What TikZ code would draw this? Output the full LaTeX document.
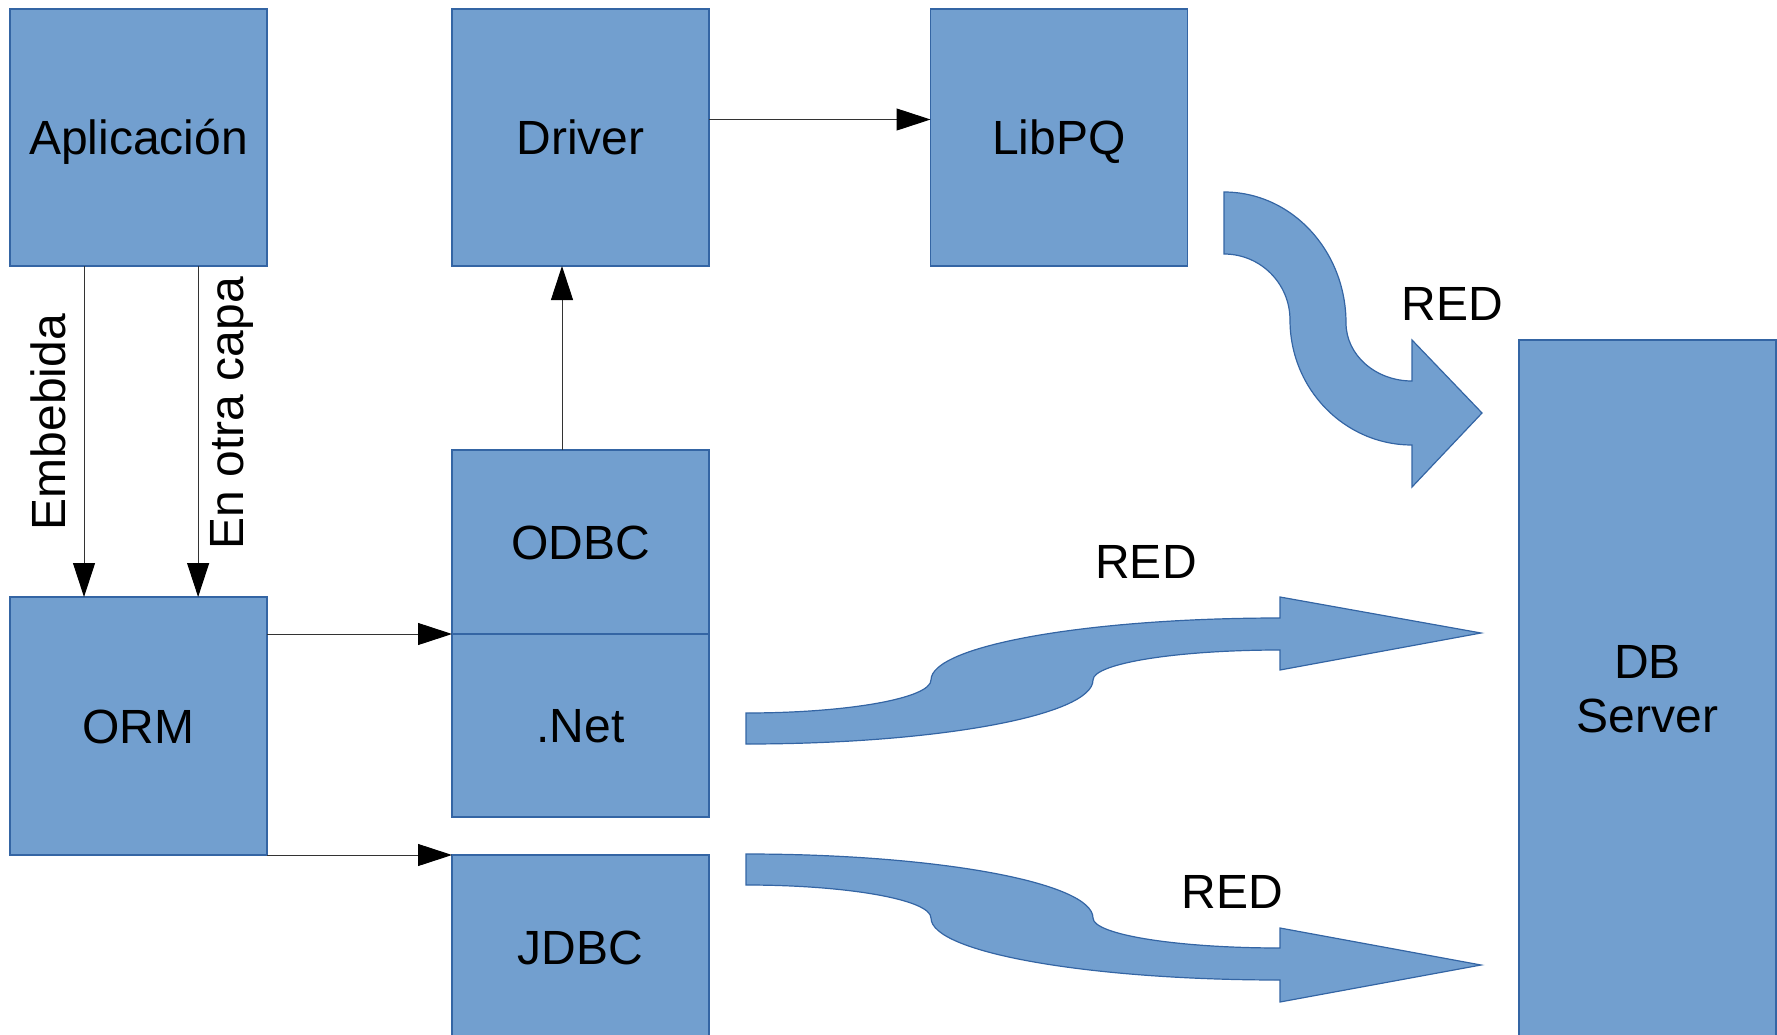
\documentclass[tikz,border=0pt]{standalone}
\usepackage{fontspec}
\setmainfont{Liberation Sans}
\usetikzlibrary{arrows.meta,calc}

\definecolor{boxfill}{HTML}{729FCF}
\definecolor{boxline}{HTML}{3465A4}

\tikzset{
  block/.style={draw=boxline, line width=1.2pt, fill=boxfill, inner sep=0pt,
    outer sep=0pt, minimum width=257pt, font=\fontsize{48}{54}\selectfont,
    align=center},
  oneline/.style={text height=34pt, text depth=0pt},
  conn/.style={draw=black!80, line width=1pt,
    -{Triangle[length=34pt,width=22pt,color=black]}},
  flow/.style={draw=boxline, line width=1.2pt, fill=boxfill},
  lbl/.style={font=\fontsize{48}{54}\selectfont, inner sep=0pt},
}

\begin{document}
\begin{tikzpicture}[x=1pt,y=-1pt]
\useasboundingbox (0,0) rectangle (1777,1035);

% software layers
\node[block, oneline, minimum height=257pt] (app)  at (138.5,137.5) {Aplicación};
\node[block, oneline, minimum height=257pt] (drv)  at (580.5,137.5) {Driver};
\node[block, oneline, minimum height=257pt] (lib)  at (1059,137.5)  {LibPQ};
\node[block, oneline, minimum height=184pt] (odbc) at (580.5,542)   {ODBC};
\node[block, oneline, minimum height=183pt] (net)  at (580.5,725.5) {.Net};
\node[block, oneline, minimum height=258pt] (orm)  at (138.5,726)   {ORM};
\node[block, oneline, minimum height=185pt] (jdbc) at (580.5,947.5) {JDBC};
\node[block, minimum height=698pt] (db)   at (1647.5,689)  {DB\\Server};

% connectors between layers
\coordinate (embA) at ($(app.south west)!0.288!(app.south east)$);
\coordinate (capA) at ($(app.south west)!0.732!(app.south east)$);
\draw[conn] (embA) -- (embA |- orm.north);
\draw[conn] (capA) -- (capA |- orm.north);
\node[lbl, rotate=90] (lemb) at (48,422) {Embebida};
\node[lbl, rotate=90] (lcap) at (232,413) {En otra capa};

\coordinate (odbcUp) at ($(odbc.north west)!0.428!(odbc.north east)$);
\draw[conn] (odbcUp) -- (odbcUp |- drv.south);

\coordinate (drvOut) at ($(drv.north east)!0.43!(drv.south east)$);
\draw[conn] (drvOut) -- (drvOut -| lib.west);

\draw[conn] (orm.east |- net.north west) -- (net.north west);
\draw[conn] (orm.south east) -- (jdbc.north west);

% network links to the server
\draw[flow] (1224,192) .. controls (1291.4,192) and (1346,250.6) .. (1346,323)
  .. controls (1346,355) and (1375.5,381) .. (1412,381)
  -- (1412,340) -- (1482,413) -- (1412,487) -- (1412,445)
  .. controls (1344.6,445) and (1290,389) .. (1290,320)
  .. controls (1290,283.5) and (1260.5,254) .. (1224,254) -- cycle;

\draw[flow] (746,713) .. controls (848.2,713) and (931,698.2) .. (931,680)
  .. controls (931,645.8) and (1087.2,618) .. (1280,618)
  -- (1280,597) -- (1481,633) -- (1280,670) -- (1280,650)
  .. controls (1176.7,650) and (1093,663.4) .. (1093,680)
  .. controls (1093,715.3) and (937.6,744) .. (746,744) -- cycle;

\draw[flow] (746,854) .. controls (937.6,854) and (1093,882.7) .. (1093,918)
  .. controls (1093,934.6) and (1176.7,948) .. (1280,948)
  -- (1280,928) -- (1481,965) -- (1280,1002) -- (1280,980)
  .. controls (1087.2,980) and (931,952.2) .. (931,918)
  .. controls (931,899.8) and (848.2,885) .. (746,885) -- cycle;

\node[lbl] (red1) at (1452,304) {RED};
\node[lbl] (red2) at (1146,562) {RED};
\node[lbl] (red3) at (1232,892) {RED};
\end{tikzpicture}
\end{document}
